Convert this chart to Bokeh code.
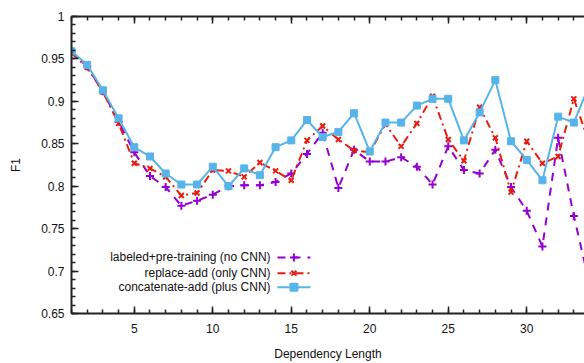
from bokeh.plotting import figure
from bokeh.models import (ColumnDataSource, SingleIntervalTicker, LinearAxis,
                          CustomJSTickFormatter, Range1d)
from bokeh.core.properties import value
from bokeh.embed import file_html
from bokeh.resources import INLINE

# ---------------- data ----------------
dep_len = list(range(1, 35))
no_cnn = [0.958, 0.941, 0.912, 0.876, 0.840, 0.812, 0.799, 0.777, 0.783, 0.790,
          0.800, 0.801, 0.801, 0.805, 0.815, 0.838, 0.863, 0.798, 0.843, 0.829,
          0.829, 0.834, 0.823, 0.802, 0.847, 0.819, 0.815, 0.843, 0.799, 0.771,
          0.729, 0.857, 0.765, 0.685]
only_cnn = [0.957, 0.940, 0.911, 0.874, 0.827, 0.821, 0.811, 0.789, 0.792, 0.819,
            0.818, 0.811, 0.828, 0.818, 0.807, 0.854, 0.871, 0.855, 0.842, 0.840,
            0.873, 0.847, 0.874, 0.906, 0.855, 0.830, 0.893, 0.857, 0.793, 0.853,
            0.827, 0.835, 0.903, 0.850]
plus_cnn = [0.959, 0.943, 0.913, 0.880, 0.846, 0.835, 0.815, 0.802, 0.802, 0.823,
            0.800, 0.821, 0.813, 0.846, 0.854, 0.878, 0.858, 0.864, 0.886, 0.841,
            0.875, 0.875, 0.895, 0.903, 0.903, 0.854, 0.887, 0.925, 0.853, 0.831,
            0.807, 0.882, 0.875, 0.920]
series_names = ["labeled+pre-training (no CNN)",
                "replace-add (only CNN)",
                "concatenate-add (plus CNN)"]
x_label = "Dependency Length"
y_label = "F1"

FONT = "Liberation Sans"
PURPLE = "#9400d3"
RED = "#e51e10"
BLUE = "#56b4e9"
AXIS = "#222222"

p = figure(width=584, height=363, output_backend="svg", toolbar_location=None,
           x_range=Range1d(1, 33.68), y_range=Range1d(0.65, 1.0),
           min_border_left=71, min_border_right=0, min_border_top=16,
           min_border_bottom=47)
p.outline_line_color = None
p.grid.visible = False
p.background_fill_color = "white"
p.border_fill_color = "white"

xt = SingleIntervalTicker(interval=5, num_minor_ticks=5)
yt = SingleIntervalTicker(interval=0.05, num_minor_ticks=5)
p.xaxis.ticker = xt
p.yaxis.ticker = yt
p.yaxis.formatter = CustomJSTickFormatter(code="return String(parseFloat(tick.toFixed(2)));")

for ax in (p.xaxis[0], p.yaxis[0]):
    ax.axis_line_color = AXIS
    ax.axis_line_width = 2
    ax.major_tick_line_color = AXIS
    ax.minor_tick_line_color = AXIS
    ax.major_tick_line_width = 1.5
    ax.minor_tick_line_width = 1.5
    ax.major_tick_in = 7
    ax.major_tick_out = 0
    ax.minor_tick_in = 4
    ax.minor_tick_out = 0
    ax.major_label_text_font = FONT
    ax.major_label_text_font_size = "12px"
    ax.major_label_text_color = "#111111"
    ax.axis_label_text_font = FONT
    ax.axis_label_text_font_size = "12px"
    ax.axis_label_text_font_style = "normal"
    ax.axis_label_text_color = "#111111"

p.xaxis.axis_label = x_label
p.yaxis.axis_label = y_label
p.xaxis.major_label_standoff = 10
p.xaxis.axis_label_standoff = 11
p.yaxis.major_label_standoff = 7
p.yaxis.axis_label_standoff = 15

# top border with inward ticks (no labels)
top = LinearAxis(ticker=SingleIntervalTicker(interval=5, num_minor_ticks=5),
                 formatter=CustomJSTickFormatter(code="return '';"),
                 major_label_text_font_size="12px", major_label_standoff=0,
                 axis_line_color=AXIS, axis_line_width=2,
                 major_tick_line_color=AXIS, minor_tick_line_color=AXIS,
                 major_tick_line_width=1.5, minor_tick_line_width=1.5,
                 major_tick_in=7, major_tick_out=0, minor_tick_in=4, minor_tick_out=0)
p.add_layout(top, "above")

src = ColumnDataSource(dict(x=dep_len, a=no_cnn, b=only_cnn, c=plus_cnn))

p.line("x", "a", source=src, color=PURPLE, line_width=2, line_dash="8 7")
p.scatter("x", "a", source=src, marker="cross", size=8, line_color=PURPLE, line_width=2)
p.line("x", "b", source=src, color=RED, line_width=2, line_dash="8 4 2 4")
p.scatter("x", "b", source=src, marker="x", size=7, line_color=RED, line_width=2)
p.line("x", "c", source=src, color=BLUE, line_width=2)
p.scatter("x", "c", source=src, marker="square", size=7, fill_color=BLUE,
          line_color=BLUE, line_width=1)

# ---------------- legend (gnuplot style: right-aligned text, sample on right) ----------------
leg_text_x = 13.68
leg_x0, leg_x1, leg_xm = 14.12, 16.22, 15.17
leg_y = [0.716, 0.6975, 0.681]
p.text(x=[leg_text_x] * 3, y=leg_y, text=series_names, text_align="right",
       text_baseline="middle", text_font=value(FONT), text_font_size="12px",
       text_color="#111111")
styles = [(PURPLE, "8 7", "cross", 8), (RED, "8 4 2 4", "x", 7), (BLUE, "solid", "square", 7)]
for yy, (col, dash, mk, sz) in zip(leg_y, styles):
    p.line([leg_x0, leg_x1], [yy, yy], color=col, line_width=2, line_dash=dash)
    p.scatter([leg_xm], [yy], marker=mk, size=sz, line_color=col, fill_color=col, line_width=2)

open("out.html", "w").write(file_html(p, INLINE))
